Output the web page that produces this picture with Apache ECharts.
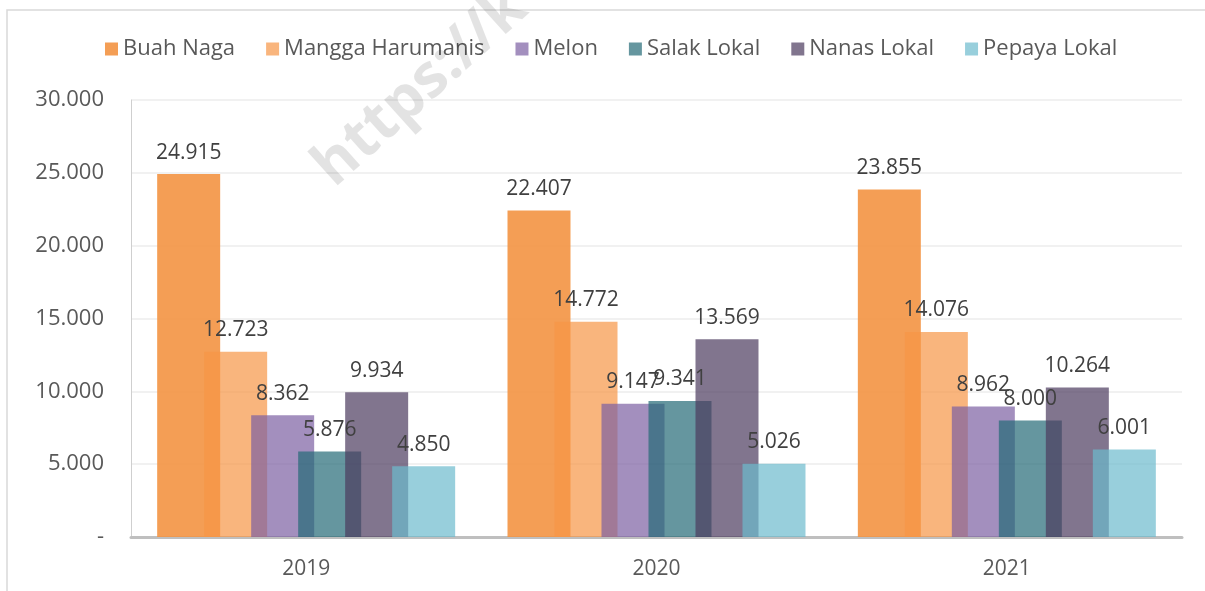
<!DOCTYPE html>
<html>
<head>
<meta charset="utf-8">
<script src="https://cdn.jsdelivr.net/npm/echarts@6/dist/echarts.min.js"></script>
<style>
  html, body { margin: 0; padding: 0; background: #fff; }
  #chart { width: 1205px; height: 591px; }
</style>
</head>
<body>
<div id="chart"></div>
<script>
// data
var years = ['2019', '2020', '2021'];
var seriesNames = ['Buah Naga', 'Mangga Harumanis', 'Melon', 'Salak Lokal', 'Nanas Lokal', 'Pepaya Lokal'];
var buahNaga = [24915, 22407, 23855];
var manggaHarumanis = [12723, 14772, 14076];
var melon = [8362, 9147, 8962];
var salakLokal = [5876, 9341, 8000];
var nanasLokal = [9934, 13569, 10264];
var pepayaLokal = [4850, 5026, 6001];

// translucent fills, like the 30% transparency of the original
var colors = [
	'rgba(243,147,66,0.9)',
	'rgba(247,150,70,0.7)',
	'rgba(124,96,162,0.7)',
	'rgba(36,106,118,0.7)',
	'rgba(76,58,94,0.7)',
	'rgba(108,186,205,0.7)'
];

function fmt(v) {
	return String(v).replace(/\B(?=(\d{3})+(?!\d))/g, '.');
}

var allData = [buahNaga, manggaHarumanis, melon, salakLokal, nanasLokal, pepayaLokal];
var series = [];
for (var i = 0; i < seriesNames.length; i++) {
	series.push({
		name : seriesNames[i],
		type : 'bar',
		barWidth : 63,
		barGap : '-25.4%',
		itemStyle : {
			color : colors[i]
		},
		label : {
			show : true,
			position : 'top',
			distance : 11,
			color : '#404040',
			fontFamily : 'Open Sans',
			fontSize : 21,
			formatter : function(p) {
				return fmt(p.value);
			}
		},
		labelLayout : { hideOverlap : false },
		data : allData[i]
	});
}

var option = {
	backgroundColor : '#fff',
	animation : false,
	graphic : [ {
		type : 'rect',
		shape : { x : 7, y : 10, width : 1220, height : 620 },
		style : { fill : 'none', stroke : '#D9D9D9', lineWidth : 1.5 },
		silent : true
	}, {
		type : 'text',
		x : 343,
		y : 198,
		rotation : 42 * Math.PI / 180,
		z : 100,
		style : {
			text : 'https://k',
			fill : 'rgba(0,0,0,0.11)',
			font : 'bold 60px "Open Sans"',
			textAlign : 'left',
			textVerticalAlign : 'bottom'
		},
		silent : true
	} ],
	legend : {
		left : 105,
		top : 38,
		padding : 0,
		itemWidth : 13,
		itemHeight : 13,
		itemGap : 31,
		icon : 'rect',
		textStyle : {
			color : '#595959',
			fontFamily : 'Open Sans',
			fontSize : 22
		},
		data : seriesNames
	},
	grid : {
		left : 131,
		right : 23,
		top : 100,
		bottom : 54
	},
	xAxis : {
		type : 'category',
		data : years,
		axisLine : {
			show : true,
			lineStyle : { color : '#BFBFBF', width : 3 }
		},
		axisTick : { show : false },
		axisLabel : {
			color : '#595959',
			fontFamily : 'Open Sans',
			fontSize : 21,
			margin : 22
		}
	},
	yAxis : {
		type : 'value',
		min : 0,
		max : 30000,
		interval : 5000,
		axisLine : {
			show : true,
			lineStyle : { color : '#CFCFCF', width : 1 }
		},
		axisTick : { show : false },
		splitLine : {
			show : true,
			lineStyle : { color : '#ECECEC', width : 1.5 }
		},
		axisLabel : {
			color : '#595959',
			fontFamily : 'Open Sans',
			fontSize : 22,
			margin : 27,
			formatter : function(v) {
				return v === 0 ? '-' : fmt(v);
			}
		}
	},
	series : series
};

var myChart = echarts.init(document.getElementById('chart'));
myChart.setOption(option);
</script>
</body>
</html>
